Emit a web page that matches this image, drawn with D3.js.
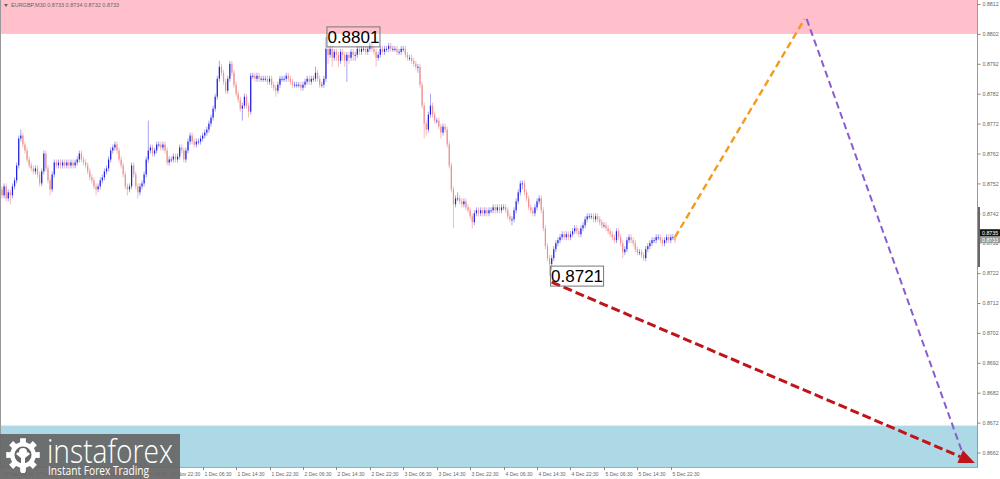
<!DOCTYPE html>
<html><head><meta charset="utf-8">
<script src="https://cdn.jsdelivr.net/npm/d3@7/dist/d3.min.js"></script>
<style>html,body{margin:0;padding:0;background:#fff;}svg{display:block;}</style>
</head><body><div id="chart"></div>
<script>
// ---------- DATA ----------
const symbolTitle = "EURGBP,M30  0.8733 0.8734 0.8732 0.8733";
const firstOpen = 0.8750;
const closes = [
0.8748,0.8751,0.8747,0.8749,0.8748,0.8751,0.8753,0.8758,0.8767,0.8768,
0.8765,0.8763,0.8760,0.8758,0.8757,0.8756,0.8757,0.8755,0.8752,0.8756,
0.8762,0.8757,0.8753,0.8750,0.8755,0.8759,0.8758,0.8759,0.8758,0.8759,
0.8758,0.8759,0.8758,0.8759,0.8758,0.8759,0.8760,0.8762,0.8760,0.8759,
0.8758,0.8756,0.8754,0.8753,0.8751,0.8750,0.8751,0.8753,0.8754,0.8756,
0.8757,0.8760,0.8763,0.8764,0.8765,0.8763,0.8760,0.8758,0.8755,0.8751,
0.8750,0.8751,0.8758,0.8755,0.8751,0.8749,0.8751,0.8752,0.8755,0.8760,
0.8763,0.8764,0.8762,0.8763,0.8765,0.8765,0.8764,0.8765,0.8763,0.8759,
0.8760,0.8760,0.8761,0.8760,0.8761,0.8764,0.8763,0.8760,0.8763,0.8766,
0.8768,0.8766,0.8765,0.8766,0.8766,0.8767,0.8768,0.8769,0.8770,0.8772,
0.8774,0.8777,0.8781,0.8787,0.8791,0.8789,0.8786,0.8783,0.8787,0.8792,
0.8789,0.8785,0.8782,0.8780,0.8777,0.8778,0.8781,0.8778,0.8776,0.8788,
0.8788,0.8787,0.8788,0.8787,0.8787,0.8787,0.8787,0.8786,0.8787,0.8785,
0.8784,0.8783,0.8785,0.8787,0.8787,0.8787,0.8788,0.8787,0.8786,0.8785,
0.8785,0.8785,0.8785,0.8784,0.8785,0.8786,0.8787,0.8786,0.8787,0.8787,
0.8789,0.8787,0.8785,0.8785,0.8787,0.8797,0.8795,0.8797,0.8794,0.8796,
0.8795,0.8793,0.8796,0.8795,0.8793,0.8795,0.8794,0.8796,0.8795,0.8795,
0.8797,0.8796,0.8797,0.8797,0.8796,0.8797,0.8798,0.8797,0.8796,0.8794,
0.8795,0.8797,0.8796,0.8797,0.8797,0.8798,0.8797,0.8797,0.8797,0.8796,
0.8796,0.8797,0.8797,0.8795,0.8794,0.8794,0.8793,0.8792,0.8791,0.8791,
0.8785,0.8778,0.8772,0.8770,0.8775,0.8778,0.8775,0.8773,0.8773,0.8771,
0.8769,0.8771,0.8770,0.8765,0.8758,0.8750,0.8745,0.8747,0.8747,0.8746,
0.8745,0.8746,0.8744,0.8743,0.8741,0.8739,0.8742,0.8743,0.8742,0.8743,
0.8742,0.8743,0.8742,0.8743,0.8743,0.8744,0.8743,0.8744,0.8743,0.8744,
0.8744,0.8743,0.8741,0.8740,0.8740,0.8743,0.8746,0.8749,0.8752,0.8752,
0.8749,0.8747,0.8744,0.8743,0.8742,0.8744,0.8746,0.8747,0.8743,0.8737,
0.8731,0.8727,0.8725,0.8727,0.8730,0.8732,0.8733,0.8734,0.8735,0.8734,
0.8735,0.8734,0.8735,0.8736,0.8737,0.8736,0.8735,0.8737,0.8738,0.8740,
0.8741,0.8741,0.8741,0.8740,0.8741,0.8740,0.8739,0.8738,0.8738,0.8737,
0.8736,0.8735,0.8734,0.8733,0.8736,0.8734,0.8732,0.8729,0.8730,0.8733,
0.8734,0.8733,0.8732,0.8730,0.8729,0.8729,0.8728,0.8727,0.8730,0.8731,
0.8732,0.8733,0.8733,0.8734,0.8734,0.8733,0.8732,0.8733,0.8734,0.8733,
0.8734,0.8734,0.8733];
const highs = [
0.8751,0.8752,0.8752,0.8750,0.8750,0.8752,0.8754,0.8759,0.8768,0.8770,
0.8769,0.8766,0.8764,0.8761,0.8759,0.8758,0.8758,0.8758,0.8756,0.8757,
0.8763,0.8763,0.8758,0.8754,0.8756,0.8760,0.8760,0.8760,0.8760,0.8760,
0.8760,0.8760,0.8760,0.8760,0.8760,0.8760,0.8761,0.8763,0.8763,0.8761,
0.8760,0.8759,0.8757,0.8755,0.8754,0.8752,0.8752,0.8754,0.8755,0.8757,
0.8758,0.8761,0.8764,0.8765,0.8766,0.8766,0.8764,0.8761,0.8759,0.8756,
0.8752,0.8752,0.8759,0.8759,0.8756,0.8752,0.8752,0.8753,0.8756,0.8761,
0.8773,0.8765,0.8765,0.8764,0.8766,0.8766,0.8766,0.8766,0.8766,0.8764,
0.8761,0.8761,0.8762,0.8762,0.8762,0.8765,0.8765,0.8764,0.8764,0.8767,
0.8769,0.8769,0.8767,0.8767,0.8767,0.8768,0.8769,0.8770,0.8771,0.8773,
0.8775,0.8778,0.8782,0.8788,0.8793,0.8792,0.8790,0.8787,0.8788,0.8793,
0.8793,0.8790,0.8786,0.8783,0.8781,0.8779,0.8782,0.8782,0.8779,0.8789,
0.8789,0.8789,0.8789,0.8789,0.8788,0.8788,0.8788,0.8788,0.8788,0.8788,
0.8786,0.8785,0.8786,0.8788,0.8788,0.8788,0.8789,0.8789,0.8788,0.8787,
0.8786,0.8786,0.8786,0.8786,0.8786,0.8787,0.8788,0.8788,0.8788,0.8788,
0.8791,0.8790,0.8788,0.8786,0.8788,0.8801,0.8798,0.8798,0.8798,0.8797,
0.8797,0.8796,0.8797,0.8797,0.8796,0.8796,0.8796,0.8797,0.8797,0.8796,
0.8798,0.8798,0.8798,0.8798,0.8798,0.8798,0.8799,0.8799,0.8798,0.8797,
0.8796,0.8798,0.8798,0.8798,0.8798,0.8799,0.8799,0.8798,0.8798,0.8798,
0.8797,0.8798,0.8798,0.8798,0.8796,0.8795,0.8795,0.8794,0.8793,0.8792,
0.8792,0.8786,0.8779,0.8773,0.8776,0.8782,0.8779,0.8776,0.8774,0.8774,
0.8772,0.8772,0.8772,0.8771,0.8766,0.8759,0.8751,0.8748,0.8749,0.8748,
0.8747,0.8747,0.8747,0.8745,0.8744,0.8742,0.8743,0.8744,0.8744,0.8744,
0.8744,0.8744,0.8744,0.8744,0.8744,0.8745,0.8745,0.8745,0.8745,0.8745,
0.8745,0.8745,0.8744,0.8742,0.8741,0.8744,0.8747,0.8750,0.8753,0.8753,
0.8753,0.8750,0.8748,0.8745,0.8744,0.8745,0.8747,0.8748,0.8748,0.8744,
0.8738,0.8732,0.8728,0.8728,0.8731,0.8733,0.8734,0.8735,0.8736,0.8736,
0.8736,0.8736,0.8736,0.8737,0.8738,0.8738,0.8737,0.8738,0.8739,0.8741,
0.8742,0.8742,0.8742,0.8742,0.8742,0.8742,0.8741,0.8740,0.8739,0.8739,
0.8738,0.8737,0.8736,0.8735,0.8737,0.8737,0.8735,0.8733,0.8731,0.8734,
0.8735,0.8735,0.8734,0.8733,0.8731,0.8730,0.8730,0.8729,0.8731,0.8732,
0.8733,0.8734,0.8734,0.8735,0.8735,0.8735,0.8734,0.8734,0.8735,0.8735,
0.8735,0.8735,0.8734];
const lows = [
0.8747,0.8747,0.8746,0.8746,0.8745,0.8747,0.8750,0.8752,0.8757,0.8766,
0.8764,0.8762,0.8759,0.8757,0.8756,0.8755,0.8755,0.8754,0.8751,0.8751,
0.8755,0.8756,0.8752,0.8748,0.8749,0.8754,0.8757,0.8757,0.8757,0.8757,
0.8757,0.8757,0.8757,0.8757,0.8757,0.8757,0.8758,0.8759,0.8759,0.8758,
0.8757,0.8755,0.8753,0.8752,0.8750,0.8748,0.8749,0.8750,0.8752,0.8753,
0.8755,0.8756,0.8759,0.8762,0.8763,0.8762,0.8759,0.8757,0.8754,0.8750,
0.8748,0.8749,0.8750,0.8754,0.8750,0.8747,0.8748,0.8750,0.8751,0.8754,
0.8759,0.8762,0.8761,0.8761,0.8762,0.8764,0.8763,0.8763,0.8762,0.8758,
0.8758,0.8759,0.8759,0.8759,0.8759,0.8760,0.8762,0.8759,0.8759,0.8762,
0.8765,0.8765,0.8764,0.8764,0.8765,0.8765,0.8766,0.8767,0.8768,0.8769,
0.8771,0.8773,0.8776,0.8780,0.8786,0.8788,0.8785,0.8782,0.8782,0.8786,
0.8788,0.8784,0.8781,0.8779,0.8776,0.8773,0.8777,0.8777,0.8774,0.8775,
0.8787,0.8786,0.8786,0.8786,0.8786,0.8786,0.8786,0.8785,0.8785,0.8784,
0.8783,0.8781,0.8782,0.8784,0.8786,0.8786,0.8786,0.8786,0.8785,0.8784,
0.8784,0.8784,0.8784,0.8783,0.8783,0.8784,0.8785,0.8785,0.8785,0.8786,
0.8786,0.8786,0.8784,0.8784,0.8784,0.8786,0.8792,0.8794,0.8791,0.8793,
0.8793,0.8791,0.8792,0.8793,0.8791,0.8786,0.8792,0.8793,0.8793,0.8793,
0.8794,0.8795,0.8795,0.8796,0.8795,0.8795,0.8796,0.8796,0.8795,0.8791,
0.8793,0.8794,0.8795,0.8795,0.8796,0.8796,0.8796,0.8796,0.8796,0.8795,
0.8795,0.8795,0.8796,0.8794,0.8793,0.8793,0.8792,0.8791,0.8790,0.8789,
0.8784,0.8777,0.8767,0.8768,0.8769,0.8774,0.8774,0.8772,0.8772,0.8770,
0.8767,0.8768,0.8769,0.8764,0.8757,0.8749,0.8737,0.8744,0.8746,0.8745,
0.8744,0.8744,0.8743,0.8742,0.8740,0.8737,0.8738,0.8741,0.8741,0.8741,
0.8741,0.8741,0.8741,0.8741,0.8742,0.8742,0.8742,0.8742,0.8742,0.8742,
0.8743,0.8742,0.8740,0.8739,0.8738,0.8739,0.8742,0.8745,0.8748,0.8750,
0.8748,0.8746,0.8743,0.8742,0.8741,0.8741,0.8743,0.8745,0.8742,0.8736,
0.8730,0.8726,0.8721,0.8723,0.8726,0.8729,0.8731,0.8732,0.8733,0.8733,
0.8733,0.8733,0.8733,0.8734,0.8735,0.8735,0.8734,0.8734,0.8736,0.8737,
0.8739,0.8740,0.8740,0.8739,0.8739,0.8739,0.8738,0.8737,0.8737,0.8736,
0.8735,0.8734,0.8733,0.8732,0.8732,0.8733,0.8731,0.8727,0.8728,0.8729,
0.8732,0.8732,0.8731,0.8729,0.8728,0.8728,0.8727,0.8726,0.8726,0.8729,
0.8730,0.8731,0.8732,0.8732,0.8733,0.8732,0.8731,0.8731,0.8732,0.8732,
0.8732,0.8733,0.8732];

const priceTicks = [0.8812,0.8802,0.8792,0.8782,0.8772,0.8762,0.8752,0.8742,0.8732,0.8722,0.8712,0.8702,0.8692,0.8682,0.8672,0.8662];
const timeLabels = ["27 Nov 06:30","27 Nov 14:30","27 Nov 22:30","28 Nov 06:30","28 Nov 14:30","30 Nov 22:30",
  "1 Dec 06:30","1 Dec 14:30","1 Dec 22:30","2 Dec 06:30","2 Dec 14:30","2 Dec 22:30",
  "3 Dec 06:30","3 Dec 14:30","3 Dec 22:30","4 Dec 06:30","4 Dec 14:30","4 Dec 22:30",
  "5 Dec 06:30","5 Dec 14:30","5 Dec 22:30"];
const barsPerLabel = 16;

// zones (price bounds)
const resistanceZone = [0.8802, 0.8820];
const supportZone = [0.8650, 0.8671];

// annotated extremes [barIndex, price]
const peakLabel = [155, 0.8801];
const troughLabel = [262, 0.8721];

// forecast waves [barIndex, price]
const orangeWave = [[322, 0.8734], [384, 0.8807]];
const purpleWave = [[385, 0.8807], [460, 0.8661]];
const redArrow = [[263, 0.8719], [465.5, 0.86585]];

const bidPrice = 0.8735, askPrice = 0.8733;

// ---------- LAYOUT ----------
const W = 1000, H = 479;
const plotR = 977, plotB = 467;
const FONT = "'Liberation Sans', Arial, sans-serif";

const x = d3.scaleLinear().domain([0, 320]).range([2, 670.8]);
const y = d3.scaleLinear().domain([0.8812, 0.8662]).range([4, 452.5]);

const svg = d3.select("#chart").append("svg").attr("width", W).attr("height", H);
svg.append("rect").attr("width", W).attr("height", H).attr("fill", "#fff");

const clip = svg.append("defs").append("clipPath").attr("id", "plot");
clip.append("rect").attr("x", 0).attr("y", 0).attr("width", plotR).attr("height", plotB);

const plot = svg.append("g").attr("clip-path", "url(#plot)");

// zones
plot.append("rect").attr("x", 0).attr("width", plotR)
  .attr("y", y(resistanceZone[1])).attr("height", y(resistanceZone[0]) - y(resistanceZone[1]))
  .attr("fill", "#ffc0cb");
plot.append("rect").attr("x", 0).attr("width", plotR)
  .attr("y", y(supportZone[1])).attr("height", y(supportZone[0]) - y(supportZone[1]))
  .attr("fill", "#add8e6");

// candles
const bars = closes.map((c, i) => ({i, o: i === 0 ? firstOpen : closes[i-1], c, h: highs[i], l: lows[i]}));
const cg = plot.append("g");
cg.selectAll("line.wick").data(bars).join("line")
  .attr("x1", d => x(d.i)).attr("x2", d => x(d.i))
  .attr("y1", d => y(d.h)).attr("y2", d => y(d.l))
  .attr("stroke", d => d.c >= d.o ? "#a4a4f4" : "#f6bcbc").attr("stroke-width", 1);
cg.selectAll("rect.body").data(bars).join("rect")
  .attr("x", d => x(d.i) - 0.6).attr("width", 1.2)
  .attr("y", d => y(Math.max(d.o, d.c)))
  .attr("height", d => Math.max(1, y(Math.min(d.o, d.c)) - y(Math.max(d.o, d.c))))
  .attr("fill", d => d.c >= d.o ? "#2020e8" : "#ef8e8e");

// forecast lines
const line = d3.line().x(d => x(d[0])).y(d => y(d[1]));
plot.append("path").datum(orangeWave).attr("d", line).attr("fill", "none")
  .attr("stroke", "#f59a1c").attr("stroke-width", 2.4).attr("stroke-dasharray", "7,4");
plot.append("path").datum(purpleWave).attr("d", line).attr("fill", "none")
  .attr("stroke", "#8a5cd0").attr("stroke-width", 2).attr("stroke-dasharray", "7,4");

// red arrow
{
  const x0 = x(redArrow[0][0]), y0 = y(redArrow[0][1]);
  const x1 = x(redArrow[1][0]), y1 = y(redArrow[1][1]);
  const ang = Math.atan2(y1 - y0, x1 - x0);
  const L = 16, hw = 7;
  const bx = x1 - L * Math.cos(ang), by = y1 - L * Math.sin(ang);
  plot.append("line").attr("x1", x0).attr("y1", y0).attr("x2", bx).attr("y2", by)
    .attr("stroke", "#c0141a").attr("stroke-width", 3).attr("stroke-dasharray", "9,4");
  const pts = [[x1, y1], [bx + hw * Math.sin(ang), by - hw * Math.cos(ang)], [bx - hw * Math.sin(ang), by + hw * Math.cos(ang)]];
  plot.append("polygon").attr("points", pts.map(p => p.join(",")).join(" ")).attr("fill", "#c0141a");
}

// extreme labels
function priceBox(pt, fill) {
  const bx = x(pt[0]) + 1, by = y(pt[1]) - 10;
  const g = svg.append("g");
  g.append("rect").attr("x", bx).attr("y", by).attr("width", 53).attr("height", 20)
    .attr("fill", fill).attr("stroke", "#777").attr("stroke-width", 1);
  g.append("text").attr("x", bx + 26.5).attr("y", by + 16).attr("text-anchor", "middle")
    .attr("font-family", FONT).attr("font-size", 17).attr("fill", "#000").text(pt[1].toFixed(4));
}
priceBox(peakLabel, "none");
priceBox(troughLabel, "none");

// title
svg.append("path").attr("d", "M4,4 L8,4 L6,7 Z").attr("fill", "#666");
svg.append("text").attr("x", 11).attr("y", 7).attr("font-family", FONT).attr("font-size", 5.5)
  .attr("fill", "#666").text(symbolTitle);

// frame
svg.append("line").attr("x1", 0.5).attr("x2", 0.5).attr("y1", 0).attr("y2", plotB).attr("stroke", "#999");
svg.append("line").attr("x1", plotR + 0.5).attr("x2", plotR + 0.5).attr("y1", 0).attr("y2", plotB).attr("stroke", "#999");
svg.append("line").attr("x1", 0).attr("x2", plotR + 1).attr("y1", plotB + 0.5).attr("y2", plotB + 0.5).attr("stroke", "#aaa");

// right axis
const yAxis = d3.axisRight(y).tickValues(priceTicks).tickSize(3).tickFormat(d3.format(".4f"));
const ya = svg.append("g").attr("transform", `translate(${plotR + 0.5},0)`).call(yAxis);
ya.select(".domain").remove();
ya.selectAll("line").attr("stroke", "#888");
ya.selectAll("text").attr("font-family", FONT).attr("font-size", 5.3).attr("fill", "#666").attr("x", 5);
svg.append("rect").attr("x", plotR + 1).attr("y", 207).attr("width", 2).attr("height", 60).attr("fill", "#666");

// price tags
svg.append("rect").attr("x", 980).attr("y", y(askPrice) - 4).attr("width", 20).attr("height", 7).attr("fill", "#9a9a9a");
svg.append("text").attr("x", 982).attr("y", y(askPrice) + 2).attr("font-family", FONT).attr("font-size", 5.3).attr("fill", "#fff")
  .text(askPrice.toFixed(4));
svg.append("rect").attr("x", 980).attr("y", y(bidPrice) - 5).attr("width", 20).attr("height", 7).attr("fill", "#111");
svg.append("text").attr("x", 982).attr("y", y(bidPrice) + 1).attr("font-family", FONT).attr("font-size", 5.3).attr("fill", "#fff")
  .text(bidPrice.toFixed(4));

// bottom axis
const xt = svg.append("g");
timeLabels.forEach((t, k) => {
  const px = Math.round(x(k * barsPerLabel)) + 0.5;
  xt.append("line").attr("x1", px).attr("x2", px).attr("y1", plotB).attr("y2", plotB + 3).attr("stroke", "#888");
  xt.append("text").attr("x", px + 1).attr("y", 476).attr("font-family", FONT).attr("font-size", 5)
    .attr("fill", "#666").text(t);
});

// logo
const logo = svg.append("g");
logo.append("rect").attr("x", 0).attr("y", 434).attr("width", 180).attr("height", 45).attr("fill", "#666").attr("opacity", 0.93);
{
  const cx = 23, cy = 455, pts = [];
  for (let k = 0; k < 16; k++) {
    const a0 = (k / 16) * 2 * Math.PI - Math.PI / 2;
    const r = (k % 2 === 0) ? 17 : 13;
    pts.push([cx + r * Math.cos(a0 - 0.17), cy + r * Math.sin(a0 - 0.17)]);
    pts.push([cx + r * Math.cos(a0 + 0.17), cy + r * Math.sin(a0 + 0.17)]);
  }
  logo.append("polygon").attr("points", pts.map(p => p.join(",")).join(" ")).attr("fill", "#fff");
  logo.append("circle").attr("cx", cx).attr("cy", cy).attr("r", 8.5).attr("fill", "#666");
  logo.append("circle").attr("cx", cx).attr("cy", cy - 3).attr("r", 4).attr("fill", "#fff");
  logo.append("path").attr("d", `M${cx-7},${cy-1} L${cx-2},${cy+3} L${cx-2},${cy+18} L${cx+2},${cy+18} L${cx+2},${cy+3} L${cx+7},${cy-1} L${cx+5},${cy-3} L${cx},${cy+1} L${cx-5},${cy-3} Z`).attr("fill", "#fff");
}
logo.append("text").attr("x", 47).attr("y", 463).attr("font-family", "'Open Sans', sans-serif").attr("font-weight", 300)
  .attr("font-size", 33).attr("fill", "#fff").attr("textLength", 126).attr("lengthAdjust", "spacingAndGlyphs").text("instaforex");
logo.append("text").attr("x", 48).attr("y", 475).attr("font-family", "'Open Sans', sans-serif")
  .attr("font-size", 12).attr("fill", "#fff").attr("textLength", 101).attr("lengthAdjust", "spacingAndGlyphs").text("Instant Forex Trading");
</script></body></html>
